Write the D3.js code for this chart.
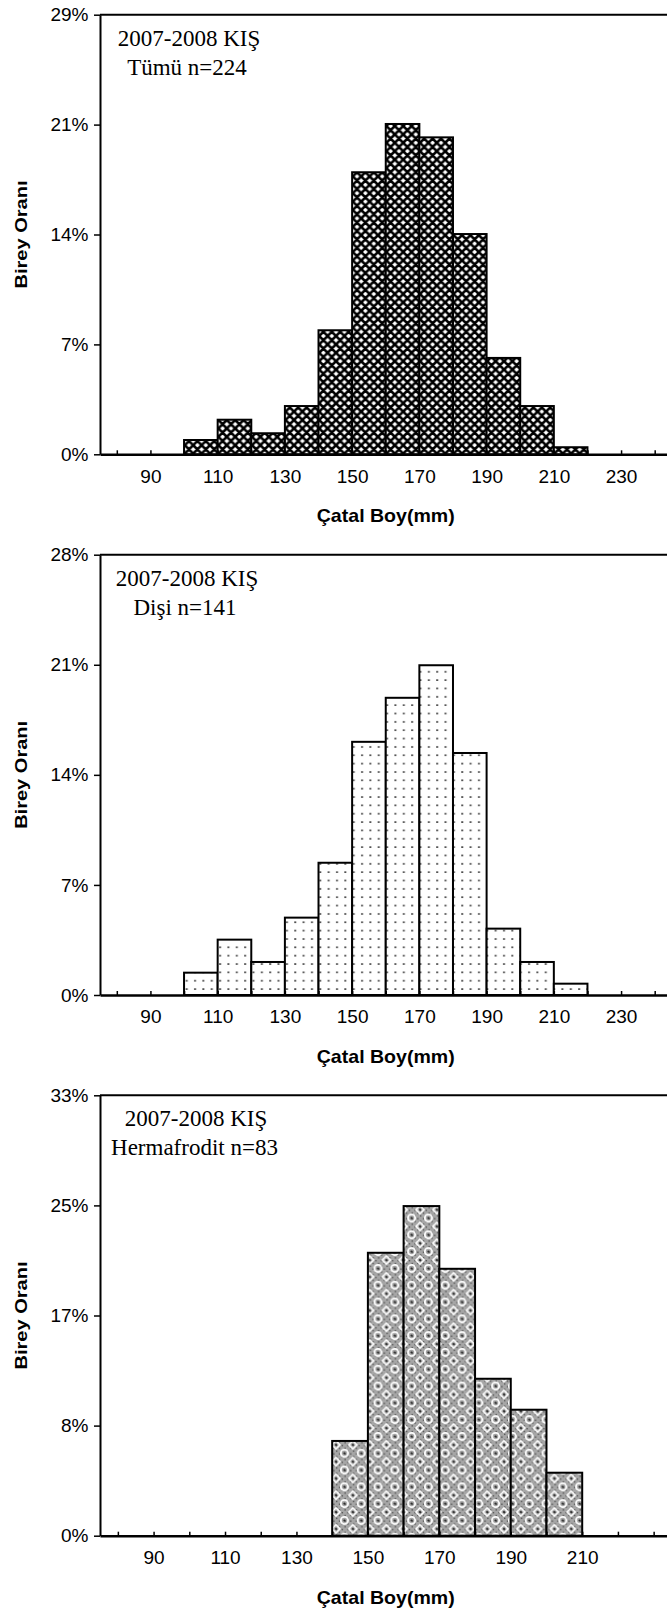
<!DOCTYPE html>
<html><head><meta charset="utf-8">
<script src="https://cdn.jsdelivr.net/npm/d3@7"></script>
<style>html,body{margin:0;padding:0;background:#fff;overflow:hidden;} svg{display:block;}</style>
</head><body>
<svg id="c" width="667" height="1614"></svg>
<script>
// ---------------- data ----------------
const binStarts1 = [100,110,120,130,140,150,160,170,180,190,200,210];
const share1     = [0.93,2.25,1.37,3.14,8.07,18.35,21.49,20.62,14.33,6.27,3.14,0.46];
const binStarts2 = [100,110,120,130,140,150,160,170,180,190,200,210];
const share2     = [1.42,3.52,2.10,4.92,8.41,16.10,18.90,20.97,15.39,4.22,2.10,0.72];
const binStarts3 = [140,150,160,170,180,190,200];
const share3     = [7.10,21.20,24.70,20.00,11.76,9.44,4.72];
const binWidth = 10;

const yTicks1 = [0, 7.15, 14.3, 21.45, 28.6];
const yTickLabels1 = ["0%","7%","14%","21%","29%"];
const yTicks2 = [0, 7, 14, 21, 28];
const yTickLabels2 = ["0%","7%","14%","21%","28%"];
const yTicks3 = [0, 8.25, 16.5, 24.75, 33];
const yTickLabels3 = ["0%","8%","17%","25%","33%"];

const xTicks12 = [80,90,100,110,120,130,140,150,160,170,180,190,200,210,220,230,240];
const xTickLabels12 = [90,110,130,150,170,190,210,230];
const xTicks3 = [80,90,100,110,120,130,140,150,160,170,180,190,200,210,220,230];
const xTickLabels3 = [90,110,130,150,170,190,210];
const xDomain12 = [75,245];
const xDomain3 = [75,235];

const noteLines1 = ["2007-2008 KIŞ","Tümü n=224"];
const noteLines2 = ["2007-2008 KIŞ","Dişi n=141"];
const noteLines3 = ["2007-2008 KIŞ","Hermafrodit n=83"];
const xTitle = "Çatal Boy(mm)";
const yTitle = "Birey Oranı";

// ---------------- drawing ----------------
const svg = d3.select("#c");
const defs = svg.append("defs");

// pattern 1: diagonal crosshatch
(function(){
  const s = 8.4;
  const p = defs.append("pattern").attr("id","pat1").attr("patternUnits","userSpaceOnUse")
    .attr("width",s).attr("height",s);
  p.append("rect").attr("width",s).attr("height",s).attr("fill","#fff");
  let d = "";
  [-s,0,s].forEach(o=>{
    d += `M${o-1},${-1} L${o+s+1},${s+1} `;
    d += `M${o+s+1},${-1} L${o-1},${s+1} `;
  });
  p.append("path").attr("d",d).attr("stroke","#000").attr("stroke-width",2.6).attr("fill","none");
})();
// pattern 2: dots
(function(){
  const s = 8.35;
  const p = defs.append("pattern").attr("id","pat2").attr("patternUnits","userSpaceOnUse")
    .attr("width",s).attr("height",s);
  p.append("rect").attr("width",s).attr("height",s).attr("fill","#fff");
  p.append("rect").attr("x",2).attr("y",3).attr("width",2).attr("height",1.6).attr("fill","#444");
})();
// pattern 3: rings & diamonds on grey
(function(){
  const s = 16.8, h = s/2;
  const p = defs.append("pattern").attr("id","pat3").attr("patternUnits","userSpaceOnUse")
    .attr("width",s).attr("height",s);
  p.append("rect").attr("width",s).attr("height",s).attr("fill","#a6a6a6");
  for (let i=0;i<6;i++) for (let j=0;j<6;j++) if ((i+j)%2===0)
    p.append("rect").attr("x",i*2.8).attr("y",j*2.8).attr("width",1.4).attr("height",1.4).attr("fill","#555");
  p.append("circle").attr("cx",h).attr("cy",h).attr("r",3.6).attr("fill","none").attr("stroke","#fff").attr("stroke-width",1.8);
  p.append("circle").attr("cx",h).attr("cy",h).attr("r",1.1).attr("fill","#222");
  [[0,0],[s,0],[0,s],[s,s]].forEach(([cx,cy])=>{
    p.append("path").attr("d",`M${cx-4},${cy} L${cx},${cy-4} L${cx+4},${cy} L${cx},${cy+4} Z`)
      .attr("fill","none").attr("stroke","#fff").attr("stroke-width",1.6);
    p.append("circle").attr("cx",cx).attr("cy",cy).attr("r",1).attr("fill","#222");
  });
})();

const left = 100, right = 671.5;

function panel(cfg){
  const g = svg.append("g");
  const x = d3.scaleLinear().domain(cfg.xDomain).range([left,right]);
  const y = d3.scaleLinear().domain([0, cfg.yTicks[cfg.yTicks.length-1]]).range([cfg.bottom, cfg.top]);

  g.selectAll("rect.bar").data(cfg.starts.map((s,i)=>({s, v:cfg.values[i]})))
    .enter().append("rect").attr("class","bar")
    .attr("x", d=>x(d.s)).attr("width", d=>x(d.s+binWidth)-x(d.s))
    .attr("y", d=>y(d.v)).attr("height", d=>y(0)-y(d.v))
    .attr("fill", `url(#${cfg.pattern})`).attr("stroke","#000").attr("stroke-width",2);

  // top frame line (right border lies outside the picture)
  g.append("path").attr("d",`M${left},${cfg.top} L${right},${cfg.top}`)
    .attr("fill","none").attr("stroke","#000").attr("stroke-width",2);

  const ya = g.append("g").attr("transform",`translate(${left},0)`)
    .call(d3.axisLeft(y).tickValues(cfg.yTicks).tickSizeInner(6).tickSizeOuter(0).tickPadding(5.5)
      .tickFormat((d,i)=>cfg.yLabels[i]));
  ya.select(".domain").attr("stroke-width",2);
  ya.selectAll(".tick line").attr("stroke-width",1.5);
  ya.selectAll("text").attr("font-family","'Liberation Sans', Arial, sans-serif").attr("font-size",19).attr("fill","#000");

  const xa = g.append("g").attr("transform",`translate(0,${cfg.bottom})`)
    .call(d3.axisBottom(x).tickValues(cfg.xTicks).tickSizeInner(-4).tickSizeOuter(0).tickPadding(15)
      .tickFormat(d=>cfg.xLabels.includes(d) ? String(d) : ""));
  xa.select(".domain").attr("stroke-width",2.5);
  xa.selectAll(".tick line").attr("stroke-width",1.5);
  xa.selectAll("text").attr("font-family","'Liberation Sans', Arial, sans-serif").attr("font-size",19).attr("fill","#000");

  g.append("text").attr("x",(left+right)/2).attr("y",cfg.bottom+68).attr("text-anchor","middle")
    .attr("font-family","'Liberation Sans', Arial, sans-serif").attr("font-weight","bold").attr("font-size",18.5)
    .attr("textLength",138).attr("lengthAdjust","spacingAndGlyphs").text(xTitle);
  const cy = (cfg.top+cfg.bottom)/2;
  g.append("text").attr("transform",`translate(27,${cy}) rotate(-90)`).attr("text-anchor","middle")
    .attr("font-family","'Liberation Sans', Arial, sans-serif").attr("font-weight","bold").attr("font-size",16)
    .attr("textLength",108).attr("lengthAdjust","spacingAndGlyphs").text(yTitle);

  cfg.notes.forEach((t,i)=>{
    g.append("text").attr("x",cfg.noteX[i]).attr("y",cfg.top + (i===0?31:60)).attr("text-anchor","middle")
      .attr("font-family","'Liberation Serif', 'Times New Roman', serif").attr("font-size",23).attr("fill","#000")
      .text(t);
  });
}

panel({top:14.7, bottom:454.3, xDomain:xDomain12, starts:binStarts1, values:share1, yTicks:yTicks1, yLabels:yTickLabels1,
  xTicks:xTicks12, xLabels:xTickLabels12, pattern:"pat1", notes:noteLines1, noteX:[189,187]});
panel({top:554.7, bottom:995, xDomain:xDomain12, starts:binStarts2, values:share2, yTicks:yTicks2, yLabels:yTickLabels2,
  xTicks:xTicks12, xLabels:xTickLabels12, pattern:"pat2", notes:noteLines2, noteX:[187,185]});
panel({top:1095.3, bottom:1535.7, xDomain:xDomain3, starts:binStarts3, values:share3, yTicks:yTicks3, yLabels:yTickLabels3,
  xTicks:xTicks3, xLabels:xTickLabels3, pattern:"pat3", notes:noteLines3, noteX:[196,194.5]});
</script>
</body></html>
